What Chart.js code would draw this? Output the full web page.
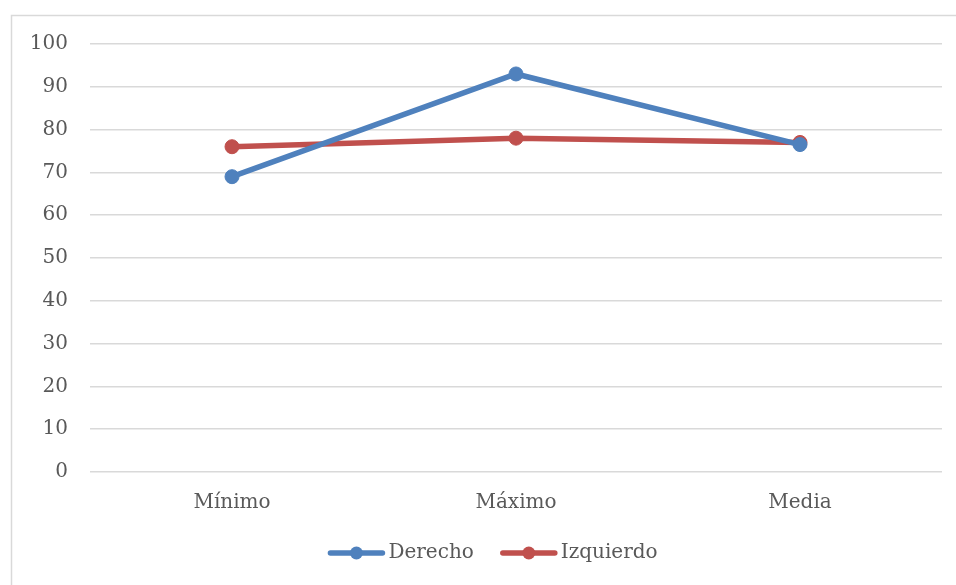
<!DOCTYPE html>
<html>
<head>
<meta charset="utf-8">
<script src="https://cdn.jsdelivr.net/npm/chart.js@4/dist/chart.umd.min.js"></script>
<style>
  html, body { margin: 0; padding: 0; background: #ffffff; }
  #wrap { width: 956px; height: 585px; position: relative; }
</style>
</head>
<body>
<div id="wrap"><canvas id="c" width="956" height="585"></canvas></div>
<script>
// Categories and series
const categories = ['Mínimo', 'Máximo', 'Media'];
const derecho = [69, 93, 76.5];
const izquierdo = [76, 78, 77];
const seriesNames = ['Derecho', 'Izquierdo'];
const seriesColors = ['#4f81bd', '#c0504d'];

const FONT = '"DejaVu Serif", serif';
const TEXT = '#595959';
const GRID = '#d9d9d9';

// Light frame around the whole chart
const framePlugin = {
  id: 'frame',
  beforeDraw(chart) {
    const ctx = chart.ctx;
    ctx.save();
    ctx.fillStyle = '#ffffff';
    ctx.fillRect(0, 0, chart.width, chart.height);
    ctx.strokeStyle = GRID;
    ctx.lineWidth = 1.5;
    ctx.strokeRect(11.5, 15.5, chart.width + 20, chart.height + 20);
    ctx.restore();
  }
};

// Legend drawn as line-with-marker samples under the axis
const lineLegend = {
  id: 'lineLegend',
  afterDraw(chart) {
    const ctx = chart.ctx;
    const sets = chart.data.datasets;
    const sample = 56, gapText = 4, gapItem = 27;
    ctx.save();
    ctx.font = '20px ' + FONT;
    const widths = sets.map(d => sample + gapText + ctx.measureText(d.label).width);
    const total = widths.reduce((a, b) => a + b, 0) + gapItem * (sets.length - 1);
    let x = 493 - total / 2;
    const y = 553;
    sets.forEach((d, i) => {
      ctx.strokeStyle = d.borderColor;
      ctx.lineWidth = 5.5;
      ctx.lineCap = 'round';
      ctx.beginPath();
      ctx.moveTo(x + 2, y);
      ctx.lineTo(x + sample - 2, y);
      ctx.stroke();
      ctx.fillStyle = d.pointBackgroundColor;
      ctx.beginPath();
      ctx.arc(x + sample / 2, y, 6.5, 0, Math.PI * 2);
      ctx.fill();
      ctx.fillStyle = TEXT;
      ctx.textBaseline = 'middle';
      ctx.textAlign = 'left';
      ctx.fillText(d.label, x + sample + gapText, y);
      x += widths[i] + gapItem;
    });
    ctx.restore();
  }
};

new Chart(document.getElementById('c'), {
  type: 'line',
  data: {
    labels: categories,
    datasets: [
      {
        label: seriesNames[0],
        data: derecho,
        borderColor: seriesColors[0],
        backgroundColor: seriesColors[0],
        pointBackgroundColor: seriesColors[0],
        pointBorderColor: seriesColors[0],
        borderWidth: 5.5,
        pointRadius: 7,
        pointBorderWidth: 1,
        tension: 0
      },
      {
        label: seriesNames[1],
        data: izquierdo,
        borderColor: seriesColors[1],
        backgroundColor: seriesColors[1],
        pointBackgroundColor: seriesColors[1],
        pointBorderColor: seriesColors[1],
        borderWidth: 5.5,
        pointRadius: 7,
        pointBorderWidth: 1,
        tension: 0
      }
    ]
  },
  options: {
    responsive: false,
    animation: false,
    devicePixelRatio: 1,
    layout: { padding: { top: 44, right: 14, left: 0, bottom: 0 } },
    plugins: {
      legend: { display: false },
      tooltip: { enabled: false }
    },
    scales: {
      x: {
        offset: true,
        grid: { display: false, drawTicks: false },
        border: { display: false },
        ticks: { color: TEXT, font: { family: FONT, size: 20 }, padding: 19 },
        afterFit(scale) { scale.height = 113; }
      },
      y: {
        min: 0,
        max: 100,
        ticks: { stepSize: 10, color: TEXT, font: { family: FONT, size: 20 }, padding: 22 },
        grid: { color: GRID, lineWidth: 1.5, drawTicks: false },
        border: { display: false },
        afterFit(scale) { scale.width = 90; }
      }
    }
  },
  plugins: [framePlugin, lineLegend]
});
</script>
</body>
</html>
